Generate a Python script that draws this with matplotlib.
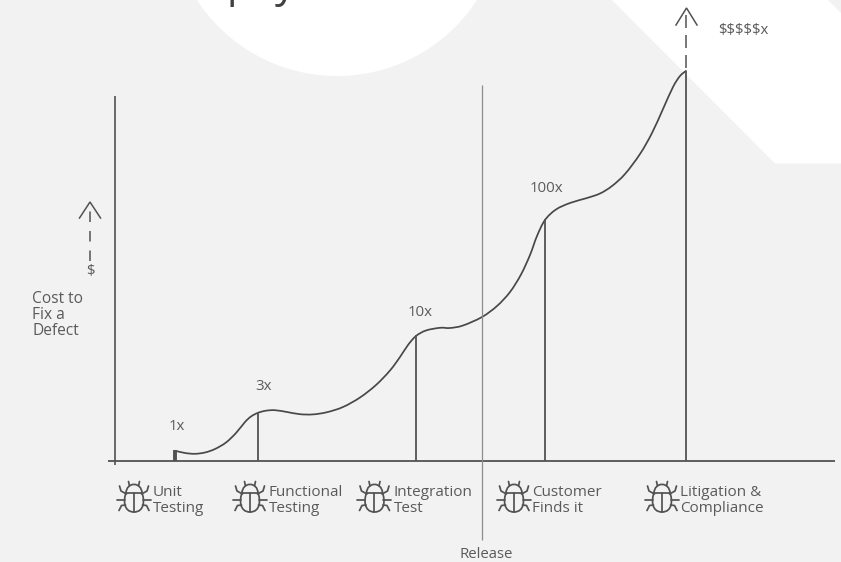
import numpy as np
import matplotlib
matplotlib.use('Agg')
import matplotlib.pyplot as plt
from matplotlib.path import Path
from matplotlib.patches import PathPatch, Circle, Polygon

# Cost curve through the development stages
curve_x = [175, 185, 195, 205, 215, 226, 236, 245, 251, 258, 266, 275, 287, 300, 313, 327, 343,
           360, 376, 390, 400, 408, 416, 426, 440, 450, 463, 482, 497, 510, 521, 530, 537, 545,
           556, 570, 586, 600, 612, 625, 640, 652, 663, 673, 680, 686.5]
curve_y = [450.7, 453, 453.8, 452.5, 449, 442.5, 433, 422, 416.5, 412.8, 410.7, 410.2, 412, 414.2,
           414.4, 412.2, 407, 397.5, 385, 370.5, 357, 345, 336, 330.5, 327.8, 328, 325.5, 317, 306,
           292, 274.5, 255, 236, 220, 209.5, 203, 198.3, 193.5, 186, 174, 154, 133, 109, 87, 76,
           70.5]

stem_x = [175, 258, 416, 545, 686.5]
stem_top = [450, 413, 335, 219, 70.5]
multipliers = ['1x', '3x', '10x', '100x', '$$$$$x']
multiplier_x = [169, 255, 407.5, 530, 718]
multiplier_y = [426, 387, 312, 189, 30.5]

stage_labels = ['Unit\nTesting', 'Functional\nTesting', 'Integration\nTest',
                'Customer\nFinds it', 'Litigation &\nCompliance']
stage_label_x = [153, 268.5, 394, 532, 680.5]
bug_x = [134, 250, 374.5, 514, 662]

axis_y = 460.5
release_x = 482

LINE = '#525252'
TEXT = '#5a5a5a'
BG = '#f2f2f2'

plt.rcParams['font.family'] = ['Open Sans', 'DejaVu Sans']


def smooth_path(xs, ys):
    # Catmull-Rom segments written as cubic beziers
    pts = np.column_stack([xs, ys])
    verts = [pts[0]]
    codes = [Path.MOVETO]
    for i in range(len(pts) - 1):
        p0 = pts[max(i - 1, 0)]
        p1 = pts[i]
        p2 = pts[i + 1]
        p3 = pts[min(i + 2, len(pts) - 1)]
        verts += [p1 + (p2 - p0) / 6, p2 - (p3 - p1) / 6, p2]
        codes += [Path.CURVE4] * 3
    return Path(verts, codes)


def draw_bug(ax, cx, cy):
    lw = 1.25
    kw = dict(color=LINE, lw=lw, solid_capstyle='round', solid_joinstyle='round')
    # shell, domed head on top of a rounded body
    body = Path(
        [(cx - 8, cy - 4), (cx - 7.5, cy - 15.5), (cx + 7.5, cy - 15.5), (cx + 8, cy - 4),
         (cx + 10.5, cy + 2), (cx + 11, cy + 15), (cx, cy + 15),
         (cx - 11, cy + 15), (cx - 10.5, cy + 2), (cx - 8, cy - 4)],
        [Path.MOVETO] + [Path.CURVE4] * 9)
    ax.add_patch(PathPatch(body, fc='none', ec=LINE, lw=lw))
    ax.plot([cx - 8, cx + 8], [cy - 4, cy - 4], **kw)
    ax.plot([cx, cx], [cy - 4, cy + 15], **kw)
    for s in (-1, 1):
        ax.plot([cx + s * 9, cx + s * 17], [cy + 3, cy + 3], **kw)
        ax.plot([cx + s * 7.5, cx + s * 13, cx + s * 14.5], [cy - 3, cy - 6, cy - 11], **kw)
        ax.plot([cx + s * 8.5, cx + s * 12.5, cx + s * 15], [cy + 8, cy + 8.5, cy + 13.5], **kw)
        ax.plot([cx + s * 5.5, cx + s * 4.5], [cy - 15.5, cy - 11], **kw)


def draw_up_arrow(ax, x, tip, base, barb, on, off):
    px = 72 / 100
    ax.plot([x, x], [base, tip + 3], color=LINE, lw=1.1,
            linestyle=(0, (on * px / 1.1, off * px / 1.1)), dash_capstyle='butt')
    ax.plot([x - 10.5, x, x + 10.5], [tip + barb, tip, tip + barb], color=LINE, lw=1.1,
            solid_joinstyle='miter')


fig = plt.figure(figsize=(8.41, 5.62), dpi=100, facecolor=BG)
ax = fig.add_axes([0, 0, 1, 1])
ax.set_xlim(0, 841)
ax.set_ylim(562, 0)
ax.axis('off')

# White backdrop shapes behind the chart
ax.add_patch(Circle((337, -91), 167, fc='white', ec='none', zorder=0))
ax.add_patch(Polygon([(612, 0), (775, 163.5), (841, 163.5), (841, 13), (828, 0)],
                     closed=True, fc='white', ec='none', zorder=0))

# Heading, cut off by the top edge so only the descenders remain
ax.text(227, -3, 'p', fontsize=30, color='#404040', va='baseline', ha='left', clip_on=True)
ax.text(275, -3, 'y', fontsize=30, color='#404040', va='baseline', ha='left', clip_on=True)

# Axes
ax.plot([115, 115], [96, 465], color=LINE, lw=1.2, solid_capstyle='butt')
ax.plot([108, 835], [axis_y, axis_y], color=LINE, lw=1.3, solid_capstyle='butt')

# Release marker
ax.plot([release_x, release_x], [85, 540], color='#8c8c8c', lw=0.9, solid_capstyle='butt')
ax.text(486.5, 555, 'Release', fontsize=10.7, color=TEXT, ha='center', va='center')

# Stage stems and the cost curve
ax.vlines(stem_x, stem_top, axis_y, color=LINE, lw=[2.8, 1.3, 1.3, 1.3, 1.3])
ax.add_patch(PathPatch(smooth_path(curve_x, curve_y), fc='none', ec='#484848', lw=1.25))

for label, x, y in zip(multipliers, multiplier_x, multiplier_y):
    ax.text(x, y, label, fontsize=10.8, color=TEXT, ha='left', va='center')

# Stage names with their bug icons
for label, x, bx in zip(stage_labels, stage_label_x, bug_x):
    ax.text(x, 500.5, label, fontsize=11, color=TEXT, ha='left', va='center', linespacing=1.06)
    draw_bug(ax, bx, 497)

# Dashed arrows
draw_up_arrow(ax, 686.5, 8, 68, 17, 13, 7)
draw_up_arrow(ax, 90, 202, 261, 16, 10.5, 9)
ax.text(90.5, 272, '$', fontsize=10.8, color=TEXT, ha='center', va='center')
ax.text(32.5, 315, 'Cost to\nFix a\nDefect', fontsize=11.2, color=TEXT, ha='left', va='center',
        linespacing=0.98)

fig.savefig('out.png', dpi=100, facecolor=BG)
